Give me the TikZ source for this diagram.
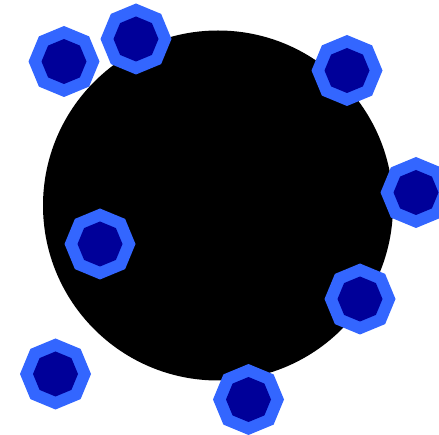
\documentclass[tikz,border=0pt]{standalone}
\usepackage{xcolor}
\usepackage{tikz}
\usetikzlibrary{shapes.geometric, positioning}

\definecolor{ringblue}{HTML}{3366FF}
\definecolor{coreblue}{HTML}{000099}

\begin{document}
\begin{tikzpicture}[
        x=1pt, y=-1pt,
        body/.style={circle, fill=black, draw=none, minimum size=350pt, inner sep=0pt},
        ring/.style={regular polygon, regular polygon sides=8, shape border rotate=22.5, fill=ringblue, draw=none, minimum size=71pt, inner sep=0pt},
        core/.style={regular polygon, regular polygon sides=8, shape border rotate=22.5, fill=coreblue, draw=none, minimum size=45pt, inner sep=0pt}
    ]
        \useasboundingbox (0,0) rectangle (439,435);

        % Body
        \node[body] (ball) at (218, 205.5) {};

        % Outer rings
        \node[ring] (s1) at (64, 61.5) {};
        \node[ring] (s2) at (136, 39) {};
        \node[ring] (s3) at (347, 70.5) {};
        \node[ring] (s4) at (416, 192.5) {};
        \node[ring] (s5) at (100, 244) {};
        \node[ring] (s6) at (360, 299) {};
        \node[ring] (s7) at (55.5, 374) {};
        \node[ring] (s8) at (248.5, 399.5) {};

        % Cores
        \node[core] (c1) at (s1) {};
        \node[core] (c2) at (s2) {};
        \node[core] (c3) at (s3) {};
        \node[core] (c4) at (s4) {};
        \node[core] (c5) at (s5) {};
        \node[core] (c6) at (s6) {};
        \node[core] (c7) at (s7) {};
        \node[core] (c8) at (s8) {};

    \end{tikzpicture}
\end{document}
